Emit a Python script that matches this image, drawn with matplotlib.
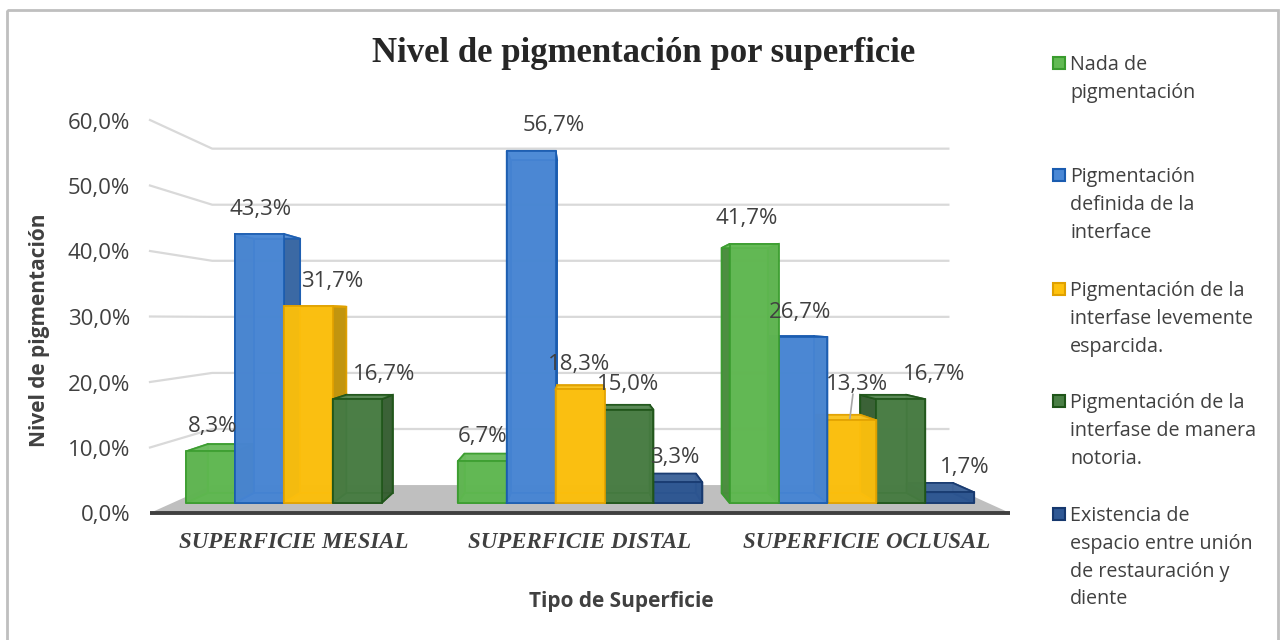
import numpy as np
import matplotlib
matplotlib.use("Agg")
import matplotlib.pyplot as plt
from matplotlib.patches import Polygon, Rectangle
from matplotlib.colors import to_rgb

# data
categories = ["SUPERFICIE MESIAL", "SUPERFICIE DISTAL", "SUPERFICIE OCLUSAL"]
series_names = [
    "Nada de\npigmentación",
    "Pigmentación\ndefinida de la\ninterface",
    "Pigmentación de la\ninterfase levemente\nesparcida.",
    "Pigmentación de la\ninterfase de manera\nnotoria.",
    "Existencia de\nespacio entre unión\nde restauración y\ndiente",
]
nada = [8.3, 6.7, 41.7]
definida = [43.3, 56.7, 26.7]
levemente = [31.7, 18.3, 13.3]
notoria = [16.7, 15.0, 16.7]
existencia = [np.nan, 3.3, 1.7]
values = [nada, definida, levemente, notoria, existencia]
yticks = [0, 10, 20, 30, 40, 50, 60]

face_colors = ["#62BA53", "#4A88D6", "#FFC20E", "#4A7F45", "#2F5894"]
edge_colors = ["#3A9C2E", "#1A5CB0", "#E0A100", "#1F5519", "#16386E"]

# label nudges (px) so labels sit like the original
label_dx = [[2, 1, 24, 27, 0], [0, 23, -1, -1, -3], [-7, -3, 5, 33, 15]]

plt.rcParams['font.family'] = ['Open Sans', 'DejaVu Sans']
fig = plt.figure(figsize=(12.81, 6.4), dpi=100)
ax = fig.add_axes([0, 0, 1, 1])
ax.set_xlim(0, 1281)
ax.set_ylim(640, 0)
ax.axis('off')

# simple perspective: front floor plane -> vanishing point
X0, X1, Y0, PX = 150, 1010, 513, 6.55
VPX, VPY, SHRINK = 582, 319, 0.144
ncat = len(categories)


def proj(u, v, z):
    fx = X0 + u * (X1 - X0) / ncat
    fy = Y0 - v * PX
    s = 1 - SHRINK * z
    return (VPX + s * (fx - VPX), VPY + s * (fy - VPY))


def shade(c, f):
    r = np.array(to_rgb(c))
    if f < 0:
        return tuple(r * (1 + f))
    return tuple(r + (1 - r) * f)


# outer border
ax.add_patch(Rectangle((7, 10), 1271, 640, fill=False, ec='#BFBFBF', lw=2, zorder=0))

# floor + gridlines
ax.add_patch(Polygon([proj(0, 0, 0), proj(ncat, 0, 0), proj(ncat, 0, 1), proj(0, 0, 1)],
                     closed=True, fc='#BFBFBF', ec='none', zorder=1))
for t in yticks:
    pts = [proj(0, t, 0), proj(0, t, 1), proj(ncat, t, 1)]
    if t > 0:
        ax.plot([p[0] for p in pts], [p[1] for p in pts], color='#D9D9D9', lw=1.6, zorder=1)
    x, y = proj(0, t, 0)
    ax.text(x - 20, y + 3, f"{t:.1f}%".replace('.', ','), ha='right', va='center',
            fontsize=16, color='#404040')
a, b = proj(0, 0, 0), proj(ncat, 0, 0)
ax.plot([a[0], b[0]], [a[1], b[1]], color='#404040', lw=2.8, zorder=2, solid_capstyle='butt')

# bars
nser = len(values)
bar_w = 0.18
margin = (1 - nser * bar_w) / 2
z0, z1 = 0.36, 0.72
bars = []
for j in range(nser):
    for i in range(ncat):
        v = values[j][i]
        if np.isnan(v):
            continue
        u0 = i + margin + j * bar_w
        bars.append((abs(proj(u0 + bar_w / 2, 0, z0)[0] - VPX), i, j, u0, v))
bars.sort(key=lambda b: -b[0])

for k, (_, i, j, u0, v) in enumerate(bars):
    u1 = u0 + bar_w
    fc, ec = face_colors[j], edge_colors[j]
    zo = 3 + k
    faces = [
        ([proj(u0, 0, z1), proj(u1, 0, z1), proj(u1, v, z1), proj(u0, v, z1)], shade(fc, -0.15)),
        ([proj(u0, 0, z0), proj(u1, 0, z0), proj(u1, 0, z1), proj(u0, 0, z1)], shade(fc, -0.15)),
        ([proj(u0, 0, z0), proj(u0, 0, z1), proj(u0, v, z1), proj(u0, v, z0)], shade(fc, -0.25)),
        ([proj(u1, 0, z0), proj(u1, 0, z1), proj(u1, v, z1), proj(u1, v, z0)], shade(fc, -0.25)),
        ([proj(u0, v, z0), proj(u1, v, z0), proj(u1, v, z1), proj(u0, v, z1)], shade(fc, 0.1)),
        ([proj(u0, 0, z0), proj(u1, 0, z0), proj(u1, v, z0), proj(u0, v, z0)], fc),
    ]
    for pts, col in faces:
        ax.add_patch(Polygon(pts, closed=True, fc=col, ec=ec, lw=1.3, alpha=0.88, zorder=zo))

    # data label
    tx, ty = proj(u0 + bar_w / 2, v, z0)
    lx = tx + label_dx[i][j]
    ly = ty - 25
    if i == 2 and j == 2:
        ly = ty - 36
        ax.plot([tx - 2, lx - 4], [ty - 2, ly + 10], color='#A6A6A6', lw=1.2, zorder=50)
    ax.text(lx, ly, f"{v:.1f}%".replace('.', ','), ha='center', va='center',
            fontsize=16, color='#404040', zorder=60)

# category labels
for i, name in enumerate(categories):
    x, _ = proj(i + 0.5, 0, 0)
    ax.text(x, 542, name, ha='center', va='center', fontsize=16.5, color='#404040',
            family='Liberation Serif', fontweight='bold', fontstyle='italic')

ax.text(644, 53, "Nivel de pigmentación por superficie", ha='center', va='center',
        fontsize=25, fontweight='bold', family='Liberation Serif', color='#262626')
ax.text(621, 602, "Tipo de Superficie", ha='center', va='center', fontsize=15,
        fontweight='bold', color='#404040')
ax.text(40, 330, "Nivel de pigmentación", ha='center', va='center', fontsize=15,
        fontweight='bold', color='#404040', rotation=90)

# legend
leg_y = [63, 175, 289, 401, 514]
for j, name in enumerate(series_names):
    ax.add_patch(Rectangle((1053, leg_y[j] - 6), 12, 12, fc=face_colors[j], ec=edge_colors[j], lw=1.5))
    ax.text(1070, leg_y[j] - 8, name, ha='left', va='top', fontsize=14.2,
            color='#404040', linespacing=1.52)

fig.savefig("out.png", dpi=100)
